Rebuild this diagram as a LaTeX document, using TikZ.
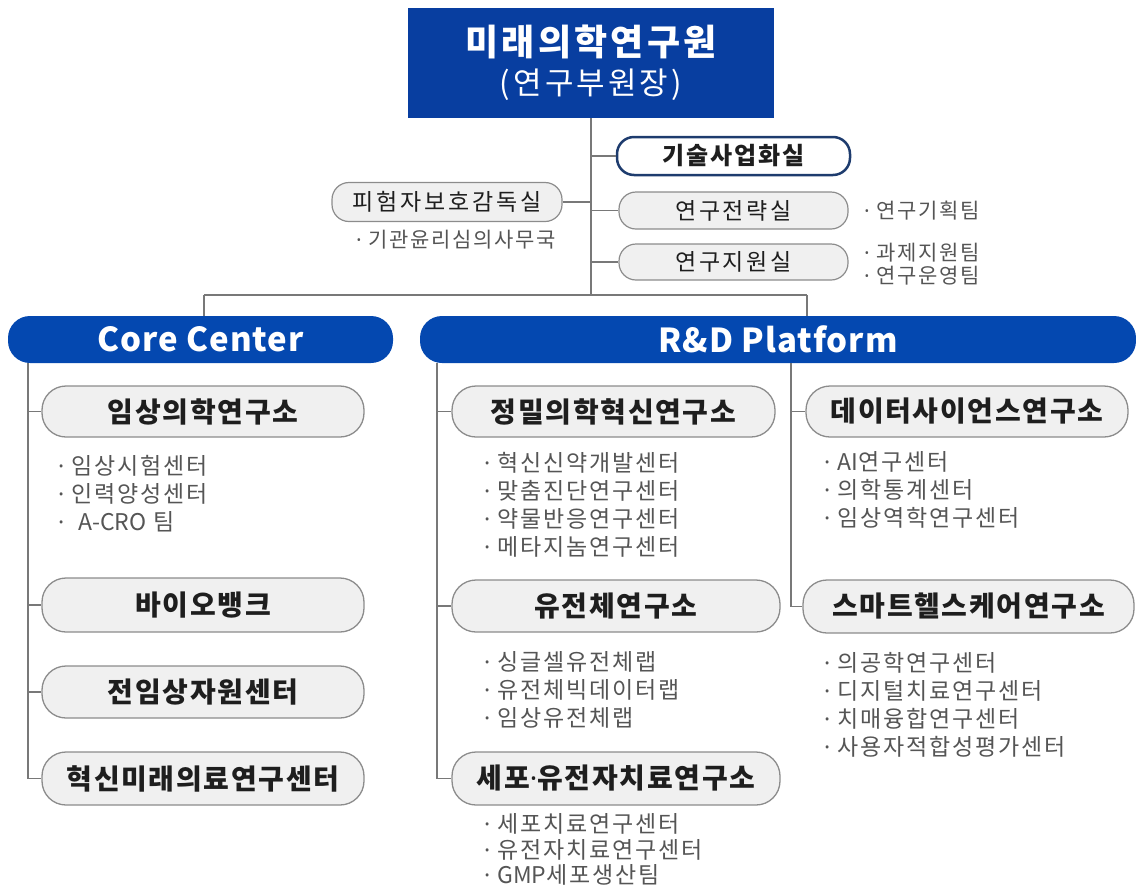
\documentclass[tikz,border=0pt]{standalone}
\usepackage{fontspec}
\setmainfont{Noto Sans CJK KR}
\newfontfamily\latinf{Noto Sans}
\newcommand\lsp[1]{\addfontfeature{LetterSpace=#1}}
\newcommand\dt{{\latinf ·}}
\definecolor{topblue}{RGB}{8,62,160}
\definecolor{barblue}{RGB}{4,72,176}
\definecolor{navy}{RGB}{30,60,110}
\definecolor{pillf}{RGB}{240,240,240}
\definecolor{pillb}{RGB}{140,140,140}
\definecolor{linec}{RGB}{120,120,120}
\definecolor{itemc}{RGB}{85,85,85}
\definecolor{pillt}{RGB}{30,30,30}
\begin{document}
\begin{tikzpicture}[x=1pt,y=-1pt,
 conn/.style={draw=linec, line width=1.5pt},
 pillbig/.style={draw=pillb, fill=pillf, line width=1.3pt, rounded corners=24pt, inner sep=0pt, text=pillt, font=\fontsize{28}{32}\selectfont\bfseries\lsp{6}},
 pillsm/.style={draw=pillb, fill=pillf, line width=1.2pt, rounded corners=17pt, inner sep=0pt, text=pillt, font=\fontsize{23}{26}\selectfont\lsp{12}},
 bar/.style={fill=barblue, rounded corners=22pt, inner sep=0pt, text=white, font=\fontsize{33}{36}\selectfont\bfseries\lsp{3}},
 item/.style={anchor=west, inner sep=0pt, text=itemc, font=\fontsize{23}{26}\selectfont\lsp{8}},
]
\useasboundingbox (0,0) rectangle (1136,892);

% top box
\node[fill=topblue, minimum width=366pt, minimum height=110pt, inner sep=0pt, text=white, align=center, font=\fontsize{36}{40}\selectfont] (top) at (591,63)
  {{\bfseries\lsp{9}미래의학연구원}\\[-1pt]{\fontsize{31}{34}\selectfont\lsp{10}(연구부원장)}};

% upper offices
\node[pillsm, draw=navy, fill=white, line width=2.5pt, font=\fontsize{24}{26}\selectfont\bfseries\lsp{8}, minimum width=233pt, minimum height=38pt] (tech) at (733.5,156) {기술사업화실};
\node[pillsm, minimum width=230pt, minimum height=39pt] (irb) at (447,202) {피험자보호감독실};
\node[pillsm, minimum width=229pt, minimum height=37pt] (strat) at (733.5,210.5) {연구전략실};
\node[pillsm, minimum width=229pt, minimum height=36pt] (supp) at (733.5,262) {연구지원실};

\node[item, font=\fontsize{21}{26}\selectfont\lsp{8}] (irb1) at (356,240) {\dt\ 기관윤리심의사무국};
\node[item, font=\fontsize{21}{26}\selectfont\lsp{8}] (strat1) at (864,211) {\dt\ 연구기획팀};
\node[item, font=\fontsize{21}{26}\selectfont\lsp{8}] (supp1) at (864,253) {\dt\ 과제지원팀};
\node[item, font=\fontsize{21}{26}\selectfont\lsp{8}] (supp2) at (864,276) {\dt\ 연구운영팀};

% header bars
\node[bar, minimum width=385pt, minimum height=47pt] (core) at (200.5,339.5) {Core Center};
\node[bar, minimum width=716pt, minimum height=47pt] (rd) at (778,339.5) {R\&D Platform};

\coordinate (cL) at (204,295);
\coordinate (cR) at (807,295);

% trunk and branches
\draw[conn] (top.south) -- (top.south |- cL);
\draw[conn] (top.south |- tech.west) -- (tech.west);
\draw[conn] (top.south |- strat.west) -- (strat.west);
\draw[conn] (top.south |- supp.west) -- (supp.west);
\draw[conn] (irb.east) -- (irb.east -| top.south);
\draw[conn] (cL) -- (cR);
\draw[conn] (cL) -- (cL |- core.north);
\draw[conn] (cR) -- (cR |- rd.north);

% Core Center column
\node[pillbig, minimum width=322pt, minimum height=51pt] (clin) at (203,411.5) {임상의학연구소};
\node[pillbig, minimum width=322pt, minimum height=54pt] (bio) at (203,605) {바이오뱅크};
\node[pillbig, minimum width=322pt, minimum height=52pt] (pre) at (203,692) {전임상자원센터};
\node[pillbig, minimum width=322pt, minimum height=53pt] (inno) at (203,778.5) {혁신미래의료연구센터};

\coordinate (ccol) at (28,363);
\draw[conn] (ccol) |- (inno.west);
\draw[conn] (ccol |- clin.west) -- (clin.west);
\draw[conn] (ccol |- bio.west) -- (bio.west);
\draw[conn] (ccol |- pre.west) -- (pre.west);

\node[item] (clin1) at (58,466) {\dt\ 임상시험센터};
\node[item] (clin2) at (58,494) {\dt\ 인력양성센터};
\node[item] (clin3) at (58,522) {\dt\ \ {\lsp{0}A-CRO} 팀};

% R&D left column
\node[pillbig, minimum width=323pt, minimum height=51pt] (prec) at (613.5,411.5) {정밀의학혁신연구소};
\node[pillbig, minimum width=328pt, minimum height=52pt] (gen) at (616,606) {유전체연구소};
\node[pillbig, minimum width=328pt, minimum height=53pt] (cell) at (616,778.5) {세포{\latinf·}유전자치료연구소};

\coordinate (rcolL) at (437,363);
\draw[conn] (rcolL) |- (cell.west);
\draw[conn] (rcolL |- prec.west) -- (prec.west);
\draw[conn] (rcolL |- gen.west) -- (gen.west);

\node[item] (prec1) at (484,463) {\dt\ 혁신신약개발센터};
\node[item] (prec2) at (484,491) {\dt\ 맞춤진단연구센터};
\node[item] (prec3) at (484,519) {\dt\ 약물반응연구센터};
\node[item] (prec4) at (484,547) {\dt\ 메타지놈연구센터};

\node[item] (gen1) at (484,662) {\dt\ 싱글셀유전체랩};
\node[item] (gen2) at (484,690) {\dt\ 유전체빅데이터랩};
\node[item] (gen3) at (484,718) {\dt\ 임상유전체랩};

\node[item] (cell1) at (484,824) {\dt\ 세포치료연구센터};
\node[item] (cell2) at (484,850) {\dt\ 유전자치료연구센터};
\node[item] (cell3) at (484,875) {\dt\ {\lsp{0}GMP}세포생산팀};

% R&D right column
\node[pillbig, minimum width=322pt, minimum height=51pt] (data) at (967,411.5) {데이터사이언스연구소};
\node[pillbig, minimum width=331pt, minimum height=53pt] (smart) at (968.5,606.5) {스마트헬스케어연구소};

\coordinate (rcolR) at (791,363);
\draw[conn] (rcolR) |- (smart.west);
\draw[conn] (rcolR |- data.west) -- (data.west);

\node[item] (data1) at (824,462) {\dt\ {\lsp{0}AI}연구센터};
\node[item] (data2) at (824,490) {\dt\ 의학통계센터};
\node[item] (data3) at (824,518) {\dt\ 임상역학연구센터};

\node[item] (smart1) at (824,663) {\dt\ 의공학연구센터};
\node[item] (smart2) at (824,691) {\dt\ 디지털치료연구센터};
\node[item] (smart3) at (824,719) {\dt\ 치매융합연구센터};
\node[item] (smart4) at (824,747) {\dt\ 사용자적합성평가센터};
\end{tikzpicture}
\end{document}
